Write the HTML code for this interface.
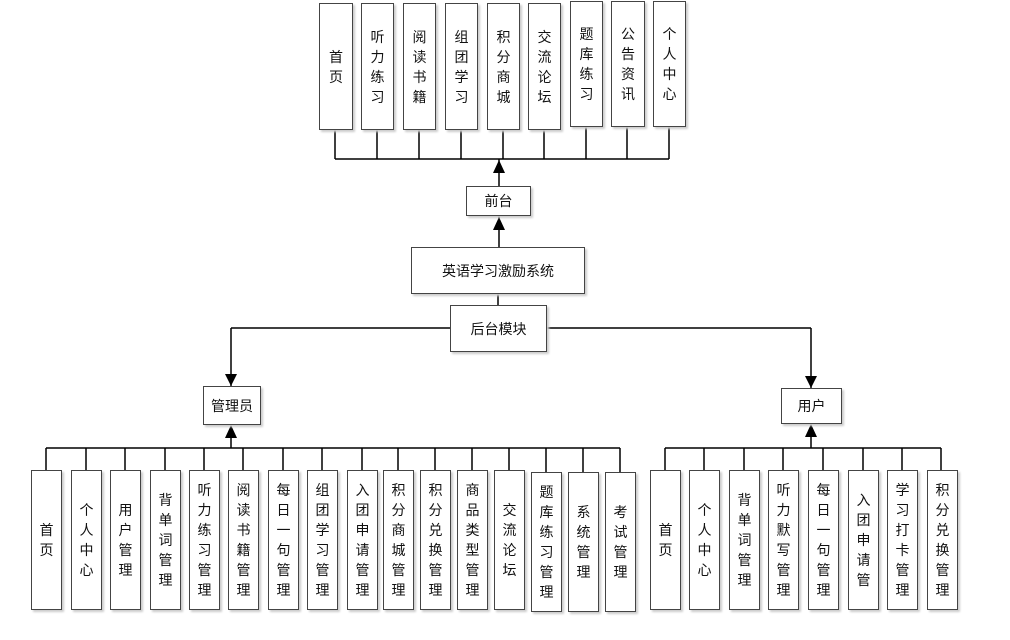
<!DOCTYPE html>
<html><head><meta charset="utf-8"><style>
body{margin:0;width:1010px;height:640px;background:#fff;position:relative;overflow:hidden;font-family:"Liberation Sans","Noto Sans CJK SC",sans-serif;}
.b{position:absolute;border:1.5px solid #444;box-sizing:border-box;background:#fff;display:flex;align-items:center;justify-content:center;font-size:14px;color:#111;text-align:center;box-shadow:2px 2px 2px #ccc;}
.v{line-height:20px;width:1em;word-break:break-all;}
svg{position:absolute;left:0;top:0;}
</style></head><body>
<svg width="1010" height="640">
<g stroke="#000" stroke-width="1.5" fill="none">
<path d="M335 130V159M377 130V159M419 130V159M461 130V159M503 130V159M544 130V159M586 127V159M627 127V159M669 127V159M335 159H669"/>
<path d="M499 159V186M499 216V247M498 294V305"/>
<path d="M231 328H450M546 328H811M231 328V386M811 328V388"/>
<path d="M46 448H620M46 448V470M86 448V470M125 448V470M165 448V470M204 448V470M243 448V470M283 448V470M322 448V470M362 448V470M398 448V470M435 448V470M472 448V470M509 448V470M546 448V472M583 448V472M620 448V472M231 448V425"/>
<path d="M665 448H941M665 448V470M704 448V470M744 448V470M783 448V470M823 448V470M863 448V470M902 448V470M941 448V470M811 448V424"/>
</g>
<g fill="#000">
<path d="M499 160l-6 13h12z"/><path d="M499 217l-6 13h12z"/>
<path d="M231 386l-6-12h12z"/><path d="M811 388l-6-12h12z"/>
<path d="M231 425l-6 13h12z"/><path d="M811 424l-6 13h12z"/>
</g>
</svg>
<div class="b" style="left:319px;top:3px;width:34px;height:127px"><span class="v">首页</span></div>
<div class="b" style="left:361px;top:3px;width:33px;height:127px"><span class="v">听力练习</span></div>
<div class="b" style="left:403px;top:3px;width:33px;height:127px"><span class="v">阅读书籍</span></div>
<div class="b" style="left:445px;top:3px;width:33px;height:127px"><span class="v">组团学习</span></div>
<div class="b" style="left:487px;top:3px;width:33px;height:127px"><span class="v">积分商城</span></div>
<div class="b" style="left:528px;top:3px;width:33px;height:127px"><span class="v">交流论坛</span></div>
<div class="b" style="left:570px;top:1px;width:33px;height:126px"><span class="v">题库练习</span></div>
<div class="b" style="left:611px;top:1px;width:34px;height:126px"><span class="v">公告资讯</span></div>
<div class="b" style="left:653px;top:1px;width:33px;height:126px"><span class="v">个人中心</span></div>
<div class="b" style="left:466px;top:186px;width:65px;height:30px">前台</div>
<div class="b" style="left:411px;top:247px;width:174px;height:47px">英语学习激励系统</div>
<div class="b" style="left:450px;top:305px;width:97px;height:47px">后台模块</div>
<div class="b" style="left:203px;top:386px;width:58px;height:39px">管理员</div>
<div class="b" style="left:781px;top:388px;width:61px;height:36px">用户</div>
<div class="b" style="left:31px;top:470px;width:31px;height:140px"><span class="v">首页</span></div>
<div class="b" style="left:71px;top:470px;width:31px;height:140px"><span class="v">个人中心</span></div>
<div class="b" style="left:110px;top:470px;width:31px;height:140px"><span class="v">用户管理</span></div>
<div class="b" style="left:150px;top:470px;width:31px;height:140px"><span class="v">背单词管理</span></div>
<div class="b" style="left:189px;top:470px;width:31px;height:140px"><span class="v">听力练习管理</span></div>
<div class="b" style="left:228px;top:470px;width:31px;height:140px"><span class="v">阅读书籍管理</span></div>
<div class="b" style="left:268px;top:470px;width:31px;height:140px"><span class="v">每日一句管理</span></div>
<div class="b" style="left:307px;top:470px;width:31px;height:140px"><span class="v">组团学习管理</span></div>
<div class="b" style="left:347px;top:470px;width:31px;height:140px"><span class="v">入团申请管理</span></div>
<div class="b" style="left:383px;top:470px;width:31px;height:140px"><span class="v">积分商城管理</span></div>
<div class="b" style="left:420px;top:470px;width:31px;height:140px"><span class="v">积分兑换管理</span></div>
<div class="b" style="left:457px;top:470px;width:31px;height:140px"><span class="v">商品类型管理</span></div>
<div class="b" style="left:494px;top:470px;width:31px;height:140px"><span class="v">交流论坛</span></div>
<div class="b" style="left:531px;top:472px;width:31px;height:140px"><span class="v">题库练习管理</span></div>
<div class="b" style="left:568px;top:472px;width:31px;height:140px"><span class="v">系统管理</span></div>
<div class="b" style="left:605px;top:472px;width:31px;height:140px"><span class="v">考试管理</span></div>
<div class="b" style="left:650px;top:470px;width:31px;height:140px"><span class="v">首页</span></div>
<div class="b" style="left:689px;top:470px;width:31px;height:140px"><span class="v">个人中心</span></div>
<div class="b" style="left:729px;top:470px;width:31px;height:140px"><span class="v">背单词管理</span></div>
<div class="b" style="left:768px;top:470px;width:31px;height:140px"><span class="v">听力默写管理</span></div>
<div class="b" style="left:808px;top:470px;width:31px;height:140px"><span class="v">每日一句管理</span></div>
<div class="b" style="left:848px;top:470px;width:31px;height:140px"><span class="v">入团申请管</span></div>
<div class="b" style="left:887px;top:470px;width:31px;height:140px"><span class="v">学习打卡管理</span></div>
<div class="b" style="left:927px;top:470px;width:31px;height:140px"><span class="v">积分兑换管理</span></div>
</body></html>
